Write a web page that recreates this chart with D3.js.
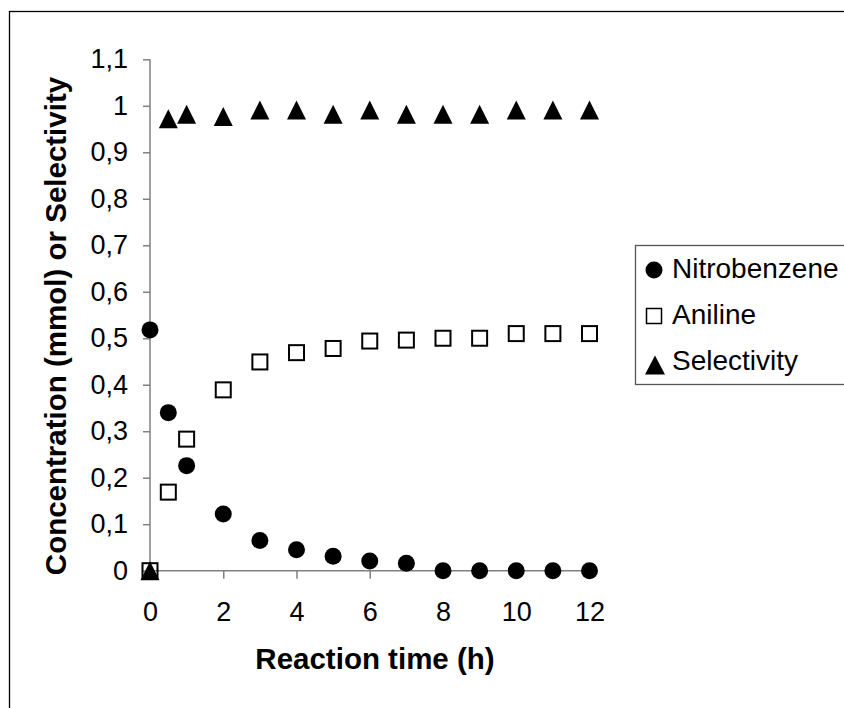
<!DOCTYPE html>
<html>
<head>
<meta charset="utf-8">
<script src="https://cdn.jsdelivr.net/npm/d3@7"></script>
<style>
  body { margin: 0; background: #fff; }
  svg { display: block; font-family: "Liberation Sans", Arial, sans-serif; }
</style>
</head>
<body>
<svg id="chart"></svg>
<script>
let width = 844, height = 708

// reaction time (h)
let times = [0, 0.5, 1, 2, 3, 4, 5, 6, 7, 8, 9, 10, 11, 12]
let nitrobenzene = [0.518, 0.34, 0.226, 0.122, 0.065, 0.045, 0.031, 0.021, 0.016, 0, 0, 0, 0, 0]
let aniline = [0, 0.169, 0.283, 0.389, 0.449, 0.469, 0.478, 0.494, 0.496, 0.5, 0.5, 0.51, 0.51, 0.51]
let selectivity = [0, 0.972, 0.982, 0.977, 0.991, 0.991, 0.982, 0.991, 0.982, 0.982, 0.982, 0.991, 0.991, 0.991]
let xTicks = [0, 2, 4, 6, 8, 10, 12]
let yTicks = [0, 0.1, 0.2, 0.3, 0.4, 0.5, 0.6, 0.7, 0.8, 0.9, 1, 1.1]
let seriesNames = ['Nitrobenzene', 'Aniline', 'Selectivity']

let svg = d3.select('#chart').attr('width', width).attr('height', height)

// outer chart frame, runs off the right and bottom edge
svg.append('rect')
  .attr('x', 9.5).attr('y', 11.5).attr('width', 900).attr('height', 800)
  .attr('fill', 'none').attr('stroke', '#000').attr('stroke-width', 1.3)

let x = d3.scaleLinear().domain([0, 12]).range([150, 589.5])
let y = d3.scaleLinear().domain([0, 1.1]).range([570.7, 59.3])

let fmt = d => String(+d.toFixed(1)).replace('.', ',')

let xAxis = svg.append('g')
  .attr('transform', `translate(0,${y(0)})`)
  .call(d3.axisBottom(x).tickValues(xTicks).tickSize(8).tickPadding(23).tickFormat(d => d))
let yAxis = svg.append('g')
  .attr('transform', `translate(${x(0)},0)`)
  .call(d3.axisLeft(y).tickValues(yTicks).tickSize(7).tickPadding(15).tickFormat(fmt))

;[xAxis, yAxis].forEach(a => {
  a.select('.domain').attr('stroke', '#808080').attr('stroke-width', 1.5)
  a.selectAll('.tick line').attr('stroke', '#808080').attr('stroke-width', 1.5)
  a.selectAll('.tick text').attr('fill', '#000').style('font-size', '27px')
    .style('font-family', '"Liberation Sans", Arial, sans-serif')
})
// plain domain lines, no outer stubs
xAxis.select('.domain').attr('d', `M${x(0)},0H${x(12)}`)
yAxis.select('.domain').attr('d', `M0,${y(1.1)}V${y(0)}`)

svg.append('text')
  .attr('x', 375).attr('y', 669)
  .attr('text-anchor', 'middle')
  .style('font-size', '29.5px').style('font-weight', 'bold')
  .text('Reaction time (h)')

svg.append('text')
  .attr('transform', 'translate(66,326) rotate(-90)')
  .attr('text-anchor', 'middle')
  .style('font-size', '29.5px').style('font-weight', 'bold')
  .text('Concentration (mmol) or Selectivity')

let circleSym = d3.symbol().type(d3.symbolCircle).size(Math.PI * 8.5 * 8.5)
// Excel style triangle: about as tall as it is wide
let tri = (w, h) => `M0,${-h / 2}L${w / 2},${h / 2}L${-w / 2},${h / 2}Z`

let pts = (vals) => times.map((t, i) => ({ t, v: vals[i] }))

svg.append('g').selectAll('rect').data(pts(aniline)).enter().append('rect')
  .attr('x', d => x(d.t) - 7.5).attr('y', d => y(d.v) - 7.5)
  .attr('width', 15).attr('height', 15)
  .attr('fill', 'none').attr('stroke', '#000').attr('stroke-width', 2)

svg.append('g').selectAll('path').data(pts(nitrobenzene)).enter().append('path')
  .attr('d', circleSym)
  .attr('transform', d => `translate(${x(d.t)},${y(d.v)})`)
  .attr('fill', '#000')

svg.append('g').selectAll('path').data(pts(selectivity)).enter().append('path')
  .attr('d', tri(19, 19))
  .attr('transform', d => `translate(${x(d.t)},${y(d.v)})`)
  .attr('fill', '#000')

// legend
let legend = svg.append('g')
legend.append('rect')
  .attr('x', 635.5).attr('y', 245.5).attr('width', 300).attr('height', 139)
  .attr('fill', '#fff').attr('stroke', '#555').attr('stroke-width', 1.3)

let rowY = [268, 314, 360]
seriesNames.forEach((name, i) => {
  let cy = rowY[i]
  if (i === 0) legend.append('path').attr('d', circleSym).attr('transform', `translate(654,${cy + 2})`).attr('fill', '#000')
  if (i === 1) legend.append('rect').attr('x', 646.5).attr('y', cy - 5.5).attr('width', 15).attr('height', 15)
    .attr('fill', 'none').attr('stroke', '#000').attr('stroke-width', 1.5)
  if (i === 2) legend.append('path').attr('d', tri(20, 19)).attr('transform', `translate(655,${cy + 5})`).attr('fill', '#000')
  legend.append('text')
    .attr('x', 672).attr('y', cy).attr('dy', '0.35em')
    .style('font-size', '28px')
    .text(name)
})
</script>
</body>
</html>
